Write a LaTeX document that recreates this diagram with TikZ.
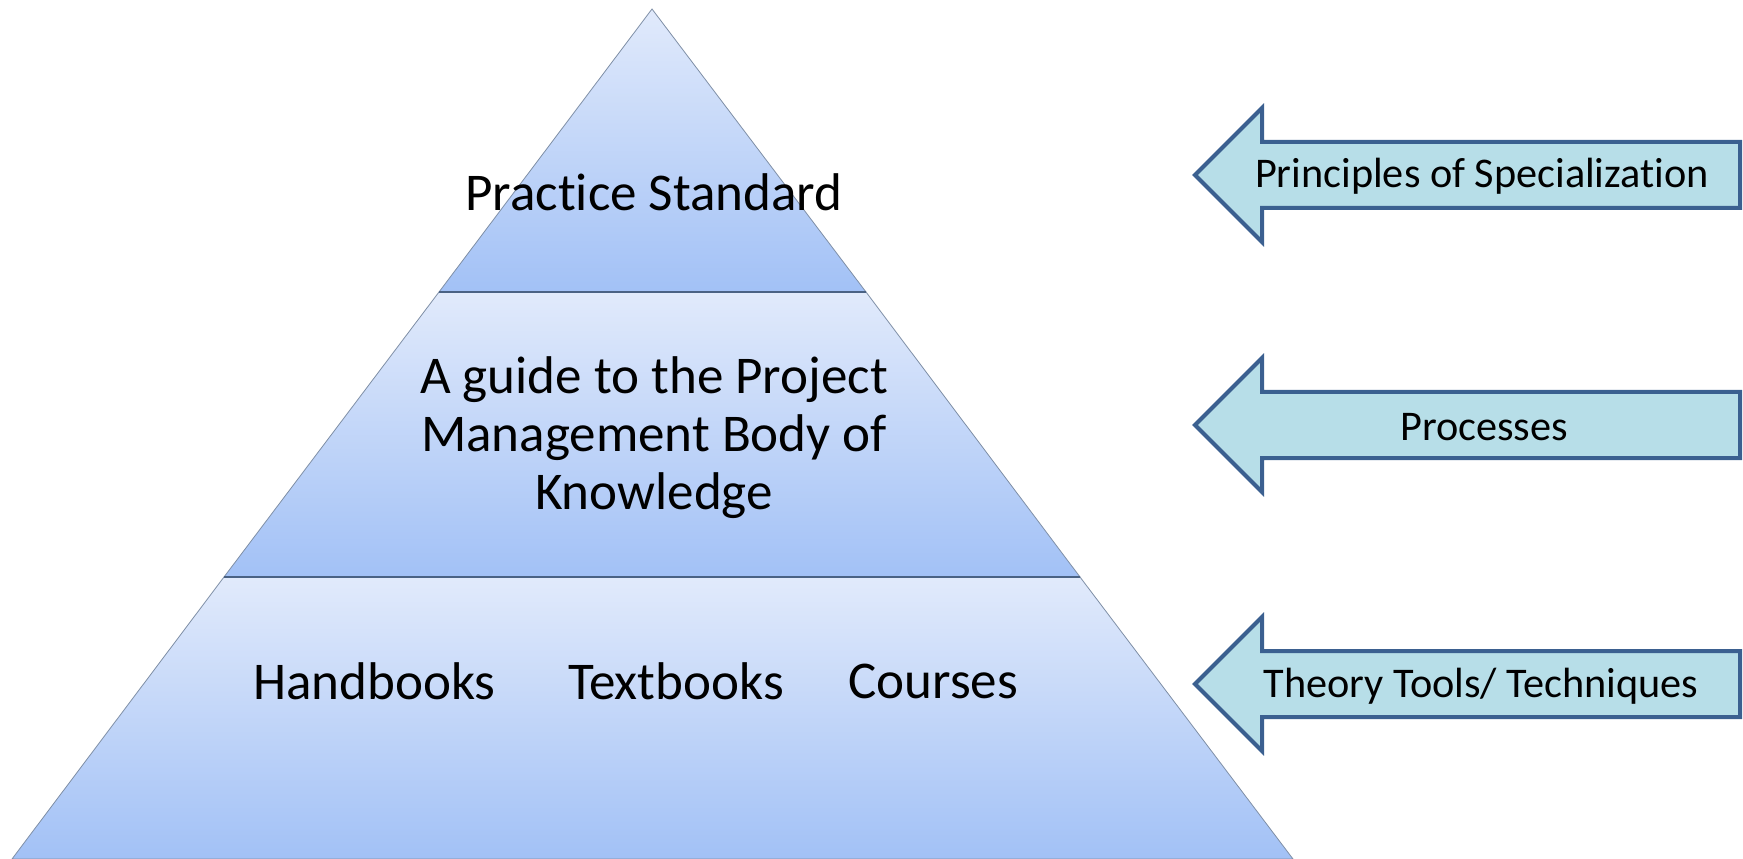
\documentclass[tikz,border=0pt]{standalone}
\usepackage{fontspec}
\setmainfont{Carlito}[Ligatures={NoCommon}]
\usetikzlibrary{positioning}

\definecolor{pyrtop}{HTML}{E1EAFB}
\definecolor{pyrbot}{HTML}{A2C1F6}
\definecolor{pyredge}{HTML}{7F8FA6}
\definecolor{pyrline}{HTML}{4A6284}
\definecolor{arrfill}{HTML}{B7DEE8}
\definecolor{arredge}{HTML}{3B6090}

\begin{document}
\begin{tikzpicture}[x=0.75pt,y=-0.75pt,
  layer/.style={top color=pyrtop,bottom color=pyrbot,draw=pyredge,line width=0.6pt},
  level/.style={font=\fontsize{39.8}{43.5}\selectfont,align=center,inner sep=2pt},
  sidearrow/.style={fill=arrfill,draw=arredge,line width=3pt,line join=miter},
  side/.style={font=\fontsize{31.7}{36}\selectfont}]
\useasboundingbox (0,0) rectangle (1743,859);

% pyramid corners
\coordinate (apex) at (652,9);
\coordinate (l1) at (439,292);
\coordinate (r1) at (866,292);
\coordinate (l2) at (224,577);
\coordinate (r2) at (1080,577);
\coordinate (l3) at (12,859);
\coordinate (r3) at (1293,859);

\path[layer] (apex) -- (r1) -- (l1) -- cycle;
\path[layer] (l1) -- (r1) -- (r2) -- (l2) -- cycle;
\path[layer] (l2) -- (r2) -- (r3) -- (l3) -- cycle;
\draw[pyrline,line width=1.5pt] (l1) -- (r1) (l2) -- (r2);

\node[level] (standard) at (654,192) {Practice Standard};
\node[level] (guide) at (654,438) {A guide to the Project\\Management Body of\\Knowledge};
\node[level] (textbooks) at (676,681) {Textbooks};
\node[level,left=50pt of textbooks] (handbooks) {Handbooks};
\node[level,right=44pt of textbooks] (courses) {Courses};

% side arrows
\foreach \y in {175,425,684}
  \draw[sidearrow] (1195,\y) -- (1262,\y-67) -- (1262,\y-33) -- (1740,\y-33)
    -- (1740,\y+33) -- (1262,\y+33) -- (1262,\y+67) -- cycle;

\node[side] (principles) at (1482,176) {Principles of Specialization};
\node[side] (processes) at (1484,427) {Processes};
\node[side] (theory) at (1481,686) {Theory Tools/ Techniques};
\end{tikzpicture}
\end{document}
